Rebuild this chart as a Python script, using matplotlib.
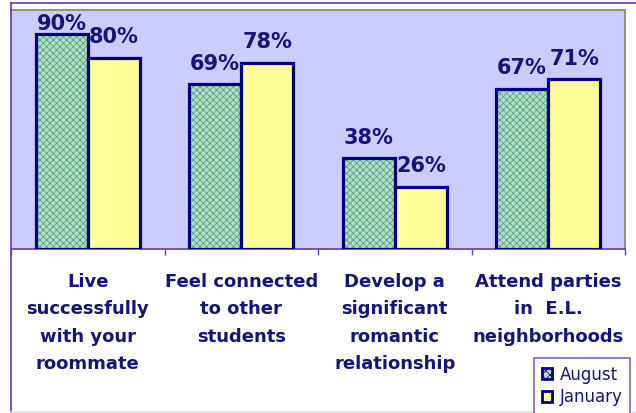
import matplotlib.pyplot as plt
import numpy as np
from matplotlib.patches import Patch
from matplotlib.lines import Line2D

# Data
categories = ["Live\nsuccessfully\nwith your\nroommate",
              "Feel connected\nto other\nstudents",
              "Develop a\nsignificant\nromantic\nrelationship",
              "Attend parties\nin  E.L.\nneighborhoods"]
august = [90, 69, 38, 67]
january = [80, 78, 26, 71]
series_names = ["August", "January"]

# Colors
navy = '#000080'
text_navy = '#14147a'
purple = '#6a35b0'
lavender = '#ccccff'
aug_fill = '#b2dac6'
aug_hatch = '#46a276'
jan_fill = '#ffff99'

plt.rcParams['font.family'] = 'DejaVu Sans'
plt.rcParams['hatch.linewidth'] = 0.5

fig = plt.figure(figsize=(6.36, 4.13), dpi=100)
ax = fig.add_axes([11 / 636, 1 - 249 / 413, 614 / 636, 239 / 413])
ax.set_facecolor(lavender)

x = np.arange(len(categories))
width = 0.34

# August bars: hatched fill layer, then outline
ax.bar(x - width / 2, august, width, color=aug_fill, edgecolor=aug_hatch,
       linewidth=0, hatch='xxxxx', zorder=2)
ax.bar(x - width / 2, august, width, fill=False, edgecolor=navy,
       linewidth=2.3, zorder=3)
ax.bar(x + width / 2, january, width, color=jan_fill, edgecolor=navy,
       linewidth=2.3, zorder=3)

ax.set_xlim(-0.5, len(categories) - 0.5)
ax.set_ylim(0, 100)

# Value labels above bars (pushed inside the plot if there's no room)
for offset, values in [(-width / 2, august), (width / 2, january)]:
    for i, v in enumerate(values):
        if v + 12 > 100:
            ax.annotate(f"{v}%", (x[i] + offset, 100), xytext=(0, -3),
                        textcoords='offset points', ha='center', va='top',
                        fontsize=15, fontweight='heavy', color=text_navy, zorder=4)
        else:
            ax.annotate(f"{v}%", (x[i] + offset, v), xytext=(0, 10.5),
                        textcoords='offset points', ha='center', va='baseline',
                        fontsize=15, fontweight='heavy', color=text_navy, zorder=4)

# Ticks between categories, no tick labels
ax.set_xticks(np.arange(len(categories) + 1) - 0.5)
ax.set_xticklabels([])
ax.set_yticks([])
ax.tick_params(axis='x', direction='out', length=4.5, width=1, color=purple)

ax.spines['bottom'].set_color(purple)
ax.spines['bottom'].set_linewidth(1.2)
ax.spines['left'].set_visible(False)
ax.spines['top'].set_color('#909090')
ax.spines['right'].set_color('#909090')
ax.spines['top'].set_linewidth(1.5)
ax.spines['right'].set_linewidth(1.5)

# Category labels under the axis
for i, label in enumerate(categories):
    ax.text(x[i], -0.1, label, transform=ax.get_xaxis_transform(),
            ha='center', va='top', fontsize=13, fontweight='bold',
            color=text_navy, linespacing=1.68)

# Chart border lines
fig.add_artist(Line2D([11 / 636, 11 / 636], [0, 1 - 3 / 413], color=purple, lw=1.2))
fig.add_artist(Line2D([11 / 636, 1], [1 - 3 / 413, 1 - 3 / 413], color=purple, lw=1.2))
fig.add_artist(Line2D([11 / 636, 1], [1.5 / 413, 1.5 / 413], color='#e4e4ec', lw=1.2))

# Legend
handles = [Patch(facecolor=aug_fill, edgecolor=navy, linewidth=2, hatch='xxxx'),
           Patch(facecolor=jan_fill, edgecolor=navy, linewidth=2)]
leg = fig.legend(handles, series_names, loc='upper left',
                 bbox_to_anchor=(534 / 636, 1 - 358 / 413), fontsize=12,
                 frameon=True, fancybox=False, handlelength=0.65,
                 handleheight=0.65, handletextpad=0.45, labelspacing=0.3,
                 borderpad=0.45, borderaxespad=0, labelcolor=text_navy)
leg.get_frame().set_edgecolor(purple)
leg.get_frame().set_linewidth(1.2)

plt.savefig('out.png', dpi=100)
